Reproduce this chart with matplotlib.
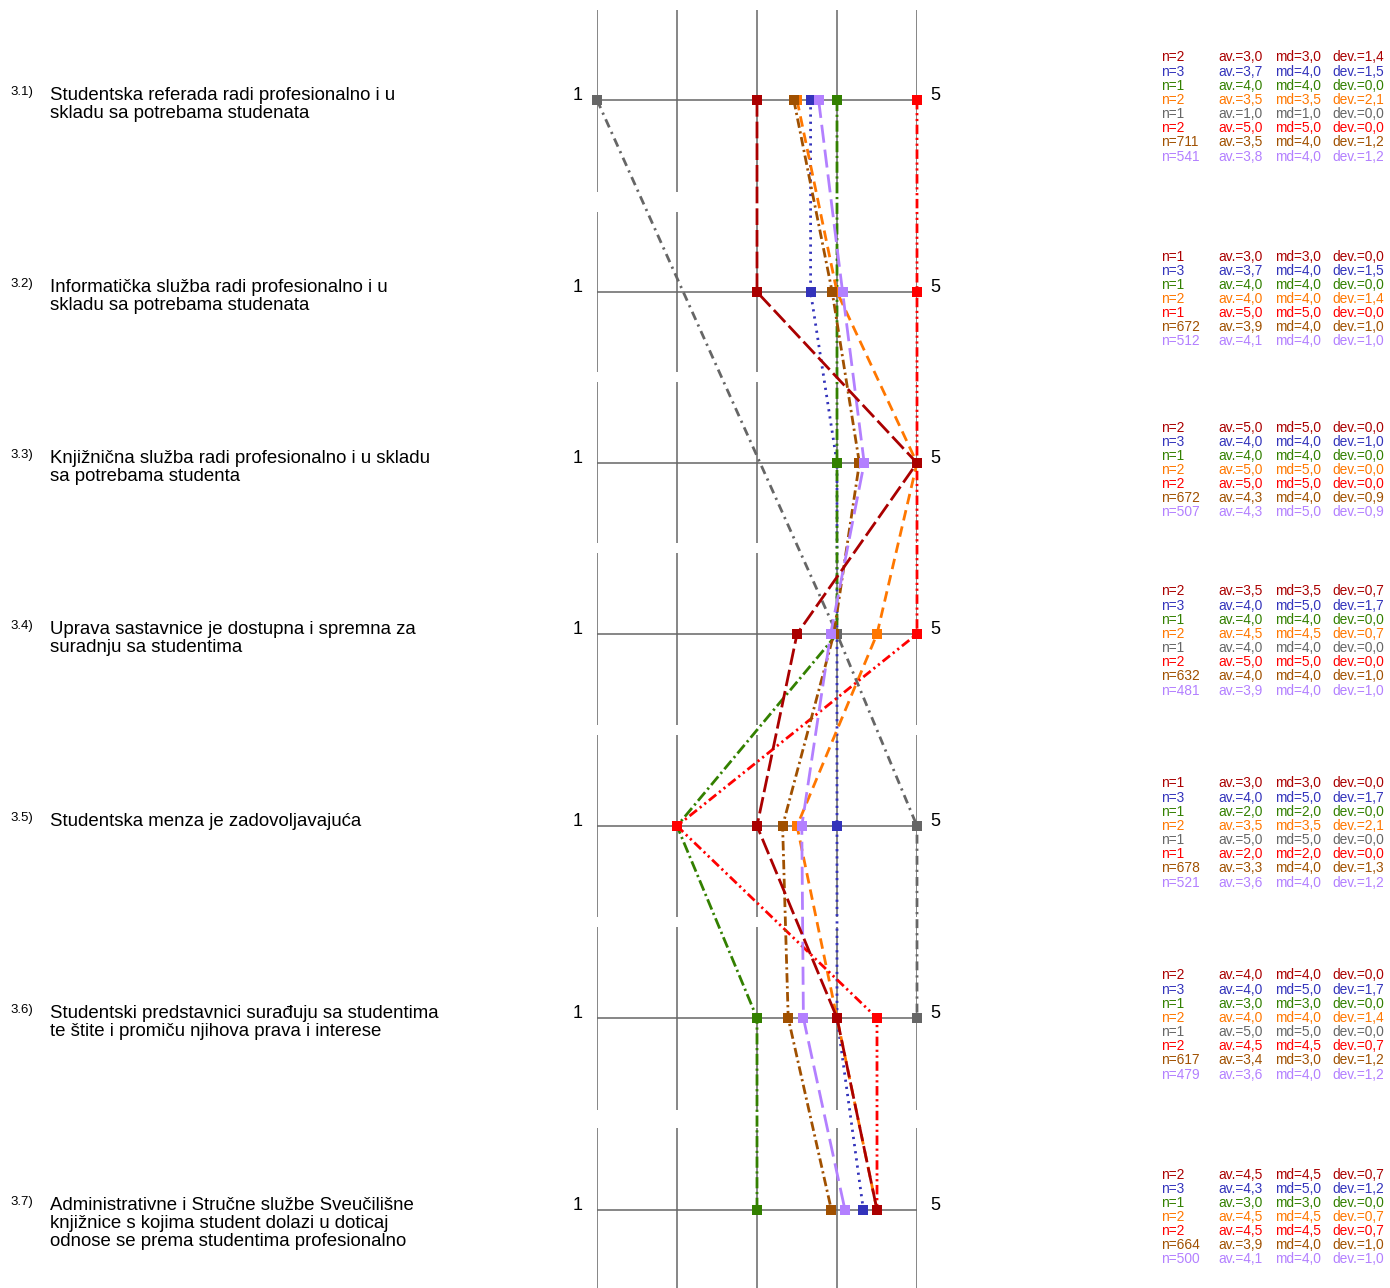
import numpy as np
import matplotlib
matplotlib.use("Agg")
import matplotlib.pyplot as plt

plt.rcParams['font.family'] = ['Liberation Sans', 'DejaVu Sans']

# --- data -------------------------------------------------------------
items = ['3.1)', '3.2)', '3.3)', '3.4)', '3.5)', '3.6)', '3.7)']
questions = [
    "Studentska referada radi profesionalno i u\nskladu sa potrebama studenata",
    "Informatička služba radi profesionalno i u\nskladu sa potrebama studenata",
    "Knjižnična služba radi profesionalno i u skladu\nsa potrebama studenta",
    "Uprava sastavnice je dostupna i spremna za\nsuradnju sa studentima",
    "Studentska menza je zadovoljavajuća",
    "Studentski predstavnici surađuju sa studentima\nte štite i promiču njihova prava i interese",
    "Administrativne i Stručne službe Sveučilišne\nknjižnice s kojima student dolazi u doticaj\nodnose se prema studentima profesionalno",
]

nan = np.nan
# series order: dark red, blue, green, orange, gray, red, brown, lavender
n_vals = [
    [2, 1, 2, 2, 1, 2, 2],
    [3, 3, 3, 3, 3, 3, 3],
    [1, 1, 1, 1, 1, 1, 1],
    [2, 2, 2, 2, 2, 2, 2],
    [1, nan, nan, 1, 1, 1, nan],
    [2, 1, 2, 2, 1, 2, 2],
    [711, 672, 672, 632, 678, 617, 664],
    [541, 512, 507, 481, 521, 479, 500],
]
av_vals = [
    [3.0, 3.0, 5.0, 3.5, 3.0, 4.0, 4.5],
    [3.67, 3.67, 4.0, 4.0, 4.0, 4.0, 4.33],
    [4.0, 4.0, 4.0, 4.0, 2.0, 3.0, 3.0],
    [3.5, 4.0, 5.0, 4.5, 3.5, 4.0, 4.5],
    [1.0, nan, nan, 4.0, 5.0, 5.0, nan],
    [5.0, 5.0, 5.0, 5.0, 2.0, 4.5, 4.5],
    [3.46, 3.94, 4.28, 3.96, 3.32, 3.39, 3.93],
    [3.77, 4.07, 4.34, 3.92, 3.56, 3.58, 4.10],
]
md_vals = [
    [3.0, 3.0, 5.0, 3.5, 3.0, 4.0, 4.5],
    [4.0, 4.0, 4.0, 5.0, 5.0, 5.0, 5.0],
    [4.0, 4.0, 4.0, 4.0, 2.0, 3.0, 3.0],
    [3.5, 4.0, 5.0, 4.5, 3.5, 4.0, 4.5],
    [1.0, nan, nan, 4.0, 5.0, 5.0, nan],
    [5.0, 5.0, 5.0, 5.0, 2.0, 4.5, 4.5],
    [4.0, 4.0, 4.0, 4.0, 4.0, 3.0, 4.0],
    [4.0, 4.0, 5.0, 4.0, 4.0, 4.0, 4.0],
]
dev_vals = [
    [1.4, 0.0, 0.0, 0.7, 0.0, 0.0, 0.7],
    [1.5, 1.5, 1.0, 1.7, 1.7, 1.7, 1.2],
    [0.0, 0.0, 0.0, 0.0, 0.0, 0.0, 0.0],
    [2.1, 1.4, 0.0, 0.7, 2.1, 1.4, 0.7],
    [0.0, nan, nan, 0.0, 0.0, 0.0, nan],
    [0.0, 0.0, 0.0, 0.0, 0.0, 0.7, 0.7],
    [1.2, 1.0, 0.9, 1.0, 1.3, 1.2, 1.0],
    [1.2, 1.0, 0.9, 1.0, 1.2, 1.2, 1.0],
]

# --- style / layout ---------------------------------------------------
colors = ['#aa0000', '#3333bb', '#338000', '#ff7700',
          '#666666', '#ff0000', '#a05000', '#b380ff']
dashes = [(6, 1.8), (0.8, 1.8), (4, 1.3, 0.8, 1.3), (3.8, 2.2),
          (3.2, 1.8, 0.8, 1.8), (3.4, 1.3, 0.8, 1.3, 0.8, 1.3),
          (3.4, 1.3, 0.8, 1.3), (6.5, 2.5)]
zorders = [12, 4, 5, 6, 7, 8, 9, 10]

W, H = 1390, 1288
row_y = [100, 292, 463, 634, 826, 1018, 1210]
cells = [(10, 192), (212, 372), (382, 543), (553, 725),
         (735, 917), (927, 1110), (1128, 1288)]
x_left, x_right = 597, 917

fig = plt.figure(figsize=(W / 100, H / 100), dpi=100)
fig.patch.set_facecolor('white')

# text layer in pixel coords
tx = fig.add_axes([0, 0, 1, 1])
tx.set_xlim(0, W)
tx.set_ylim(H, 0)
tx.axis('off')

# chart layer: x in scale values 1..5
ax = fig.add_axes([x_left / W, 0, (x_right - x_left) / W, 1])
ax.set_xlim(1, 5)
ax.set_ylim(H, 0)
ax.axis('off')

grid_c = '#666666'
for (y0, y1) in cells:
    ax.vlines([1, 2, 3, 4, 5], y0, y1, color=grid_c, lw=1.1, zorder=1)
ax.hlines(row_y, 1, 5, color=grid_c, lw=1.1, zorder=1)

rows = np.array(row_y, dtype=float)
for i in range(len(colors)):
    av = np.array(av_vals[i], dtype=float)
    ok = ~np.isnan(av)
    ax.plot(av[ok], rows[ok], color=colors[i], lw=2.0, dashes=dashes[i],
            marker='s', ms=7, mew=0, clip_on=False, zorder=zorders[i])

fmt = lambda v: f"{v:.1f}".replace('.', ',')
for r, y in enumerate(row_y):
    tx.text(578, y - 5, '1', fontsize=13, ha='center', va='center')
    tx.text(935, y - 5, '5', fontsize=13, ha='center', va='center')
    tx.text(10, y - 8, items[r], fontsize=9.5, ha='left', va='center')
    for k, line in enumerate(questions[r].split('\n')):
        tx.text(50, y - 5 + k * 18.5, line, fontsize=13.4, ha='left', va='center')

    present = [i for i in range(len(colors)) if not np.isnan(n_vals[i][r])]
    y0 = y + 7 - (len(present) - 1) / 2 * 14.15
    for j, i in enumerate(present):
        yy = y0 + j * 14.15
        tx.text(1161, yy, f"n={int(n_vals[i][r])}", color=colors[i], fontsize=9.9, va='center')
        tx.text(1218, yy, f"av.={fmt(av_vals[i][r])}", color=colors[i], fontsize=9.9, va='center')
        tx.text(1275, yy, f"md={fmt(md_vals[i][r])}", color=colors[i], fontsize=9.9, va='center')
        tx.text(1332, yy, f"dev.={fmt(dev_vals[i][r])}", color=colors[i], fontsize=9.9, va='center')

fig.savefig('out.png', dpi=100, facecolor='white')
